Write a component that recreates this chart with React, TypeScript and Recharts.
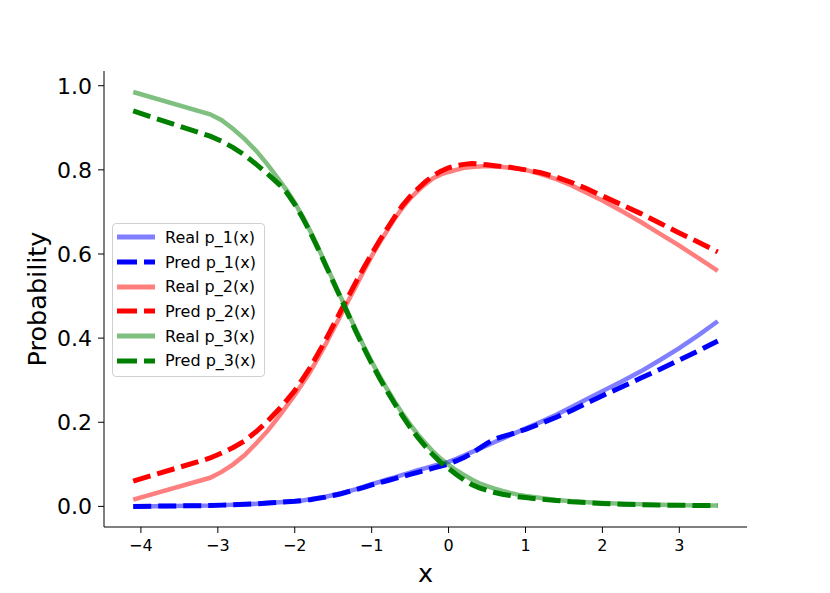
import { LineChart, Line, XAxis, YAxis, Legend, Label } from "recharts";

const xs = [-4.1, -3.1, -2.95, -2.8, -2.65, -2.5, -2.35, -2.2, -2.1, -2.0, -1.9, -1.8, -1.7, -1.6, -1.5, -1.4, -1.3, -1.2, -1.1, -1.0, -0.9, -0.8, -0.7, -0.6, -0.5, -0.4, -0.3, -0.2, -0.1, 0, 0.1, 0.2, 0.3, 0.4, 0.5, 0.6, 0.7, 0.8, 0.9, 1.0, 1.2, 1.4, 1.6, 1.8, 2.0, 2.25, 2.5, 2.75, 3.0, 3.25, 3.5];

const real1 = [0, 0.002, 0.003, 0.004, 0.005, 0.006, 0.008, 0.01, 0.011, 0.012, 0.014, 0.017, 0.02, 0.023, 0.027, 0.031, 0.036, 0.041, 0.047, 0.053, 0.058, 0.064, 0.069, 0.075, 0.08, 0.086, 0.091, 0.096, 0.101, 0.106, 0.113, 0.121, 0.129, 0.137, 0.145, 0.153, 0.161, 0.169, 0.177, 0.185, 0.201, 0.218, 0.236, 0.255, 0.274, 0.297, 0.321, 0.348, 0.376, 0.407, 0.44];
const pred1 = [0, 0.002, 0.003, 0.004, 0.005, 0.006, 0.008, 0.01, 0.011, 0.012, 0.014, 0.016, 0.019, 0.022, 0.026, 0.03, 0.035, 0.04, 0.045, 0.051, 0.056, 0.061, 0.066, 0.071, 0.076, 0.081, 0.086, 0.091, 0.096, 0.101, 0.108, 0.116, 0.126, 0.138, 0.15, 0.16, 0.166, 0.171, 0.177, 0.183, 0.197, 0.212, 0.228, 0.246, 0.263, 0.284, 0.305, 0.326, 0.348, 0.37, 0.393];
const real2 = [0.016, 0.068, 0.082, 0.1, 0.122, 0.15, 0.18, 0.215, 0.24, 0.265, 0.292, 0.32, 0.352, 0.385, 0.42, 0.455, 0.49, 0.525, 0.56, 0.595, 0.626, 0.655, 0.684, 0.71, 0.732, 0.75, 0.766, 0.78, 0.789, 0.795, 0.8, 0.805, 0.807, 0.808, 0.809, 0.808, 0.807, 0.805, 0.803, 0.8, 0.79, 0.778, 0.763, 0.745, 0.727, 0.702, 0.676, 0.648, 0.62, 0.59, 0.56];
const pred2 = [0.06, 0.115, 0.127, 0.14, 0.156, 0.178, 0.203, 0.232, 0.253, 0.275, 0.302, 0.33, 0.362, 0.395, 0.43, 0.465, 0.5, 0.535, 0.568, 0.6, 0.631, 0.66, 0.688, 0.715, 0.737, 0.755, 0.772, 0.786, 0.797, 0.805, 0.81, 0.813, 0.815, 0.814, 0.812, 0.81, 0.808, 0.806, 0.803, 0.8, 0.793, 0.783, 0.77, 0.755, 0.738, 0.717, 0.696, 0.673, 0.65, 0.628, 0.605];
const real3 = [0.985, 0.932, 0.918, 0.897, 0.873, 0.845, 0.812, 0.775, 0.75, 0.722, 0.69, 0.655, 0.617, 0.577, 0.537, 0.497, 0.457, 0.418, 0.38, 0.344, 0.311, 0.279, 0.249, 0.221, 0.195, 0.171, 0.15, 0.13, 0.113, 0.099, 0.086, 0.075, 0.064, 0.055, 0.048, 0.042, 0.037, 0.032, 0.028, 0.025, 0.02, 0.015, 0.012, 0.01, 0.008, 0.006, 0.005, 0.004, 0.003, 0.002, 0.002];
const pred3 = [0.94, 0.88, 0.868, 0.853, 0.835, 0.813, 0.79, 0.765, 0.745, 0.718, 0.687, 0.652, 0.614, 0.574, 0.534, 0.494, 0.454, 0.414, 0.376, 0.34, 0.306, 0.274, 0.244, 0.215, 0.188, 0.164, 0.142, 0.122, 0.104, 0.09, 0.076, 0.063, 0.052, 0.044, 0.038, 0.033, 0.029, 0.026, 0.023, 0.021, 0.017, 0.014, 0.011, 0.009, 0.007, 0.005, 0.004, 0.003, 0.003, 0.002, 0.002];

const xTicks = [-4, -3, -2, -1, 0, 1, 2, 3];
const yTicks = [0, 0.2, 0.4, 0.6, 0.8, 1.0];

const series = [
  { key: "real1", name: "Real p_1(x)", color: "#0000ff", dashed: false },
  { key: "pred1", name: "Pred p_1(x)", color: "#0000ff", dashed: true },
  { key: "real2", name: "Real p_2(x)", color: "#ff0000", dashed: false },
  { key: "pred2", name: "Pred p_2(x)", color: "#ff0000", dashed: true },
  { key: "real3", name: "Real p_3(x)", color: "#008000", dashed: false },
  { key: "pred3", name: "Pred p_3(x)", color: "#008000", dashed: true },
];

const data = xs.map((x, i) => ({
  x,
  real1: real1[i],
  pred1: pred1[i],
  real2: real2[i],
  pred2: pred2[i],
  real3: real3[i],
  pred3: pred3[i],
}));

const font = "'DejaVu Sans', sans-serif";
const DASH = "18 7";

const LegendBox = () => (
  <div
    style={{
      border: "1px solid #d0d0d0",
      borderRadius: 4,
      background: "rgba(255,255,255,0.8)",
      padding: "1px 8px 3px 4px",
      fontFamily: font,
      fontSize: 16,
      color: "#000",
    }}
  >
    {series.map((s) => (
      <div key={s.key} style={{ display: "flex", alignItems: "center", height: 24.7 }}>
        <svg width={38} height={10}>
          <line
            x1={0}
            y1={5}
            x2={38}
            y2={5}
            stroke={s.color}
            strokeOpacity={s.dashed ? 1 : 0.5}
            strokeWidth={5}
            strokeDasharray={s.dashed ? "20 7" : undefined}
          />
        </svg>
        <span style={{ marginLeft: 10, whiteSpace: "nowrap" }}>{s.name}</span>
      </div>
    ))}
  </div>
);

const App = () => {
  return (
    <div style={{ position: "absolute", left: 0, top: 0, background: "#fff" }}>
      <LineChart
        width={830}
        height={593}
        data={data}
        margin={{ top: 71, right: 83, left: 0, bottom: 0 }}
      >
        <XAxis
          dataKey="x"
          type="number"
          domain={[-4.48, 3.88]}
          allowDataOverflow
          ticks={xTicks}
          interval={0}
          height={66}
          stroke="#000"
          tickSize={6}
          tickMargin={7}
          tick={{ fill: "#000", fontSize: 16, fontFamily: font }}
          tickFormatter={(v) => String(v).replace("-", "\u2212")}
        >
          <Label
            content={(props: any) => {
              const vb = props.viewBox;
              return (
                <text
                  x={vb.x + vb.width / 2}
                  y={vb.y + 55}
                  textAnchor="middle"
                  fontSize={25.5}
                  fontFamily={font}
                  fill="#000"
                >
                  x
                </text>
              );
            }}
          />
        </XAxis>
        <YAxis
          type="number"
          domain={[-0.049, 1.035]}
          allowDataOverflow
          ticks={yTicks}
          interval={0}
          width={104}
          stroke="#000"
          tickSize={6}
          tickMargin={6}
          tick={{ fill: "#000", fontSize: 22, fontFamily: font }}
          tickFormatter={(v) => Number(v).toFixed(1)}
        >
          <Label
            content={(props: any) => {
              const vb = props.viewBox;
              const cx = 46;
              const cy = vb.y + vb.height / 2;
              return (
                <text
                  x={cx}
                  y={cy}
                  transform={`rotate(-90 ${cx} ${cy})`}
                  textAnchor="middle"
                  fontSize={25.5}
                  fontFamily={font}
                  fill="#000"
                >
                  Probability
                </text>
              );
            }}
          />
        </YAxis>
        <Legend
          layout="vertical"
          align="center"
          verticalAlign="middle"
          wrapperStyle={{ left: 112, top: 223, width: "auto" }}
          content={() => <LegendBox />}
        />
        {series.map((s) => (
          <Line
            key={s.key}
            dataKey={s.key}
            name={s.name}
            type="linear"
            stroke={s.color}
            strokeOpacity={s.dashed ? 1 : 0.5}
            strokeWidth={s.dashed ? 5 : 4.5}
            strokeDasharray={s.dashed ? DASH : undefined}
            dot={false}
            activeDot={false}
            isAnimationActive={false}
          />
        ))}
      </LineChart>
    </div>
  );
};

export default App;
